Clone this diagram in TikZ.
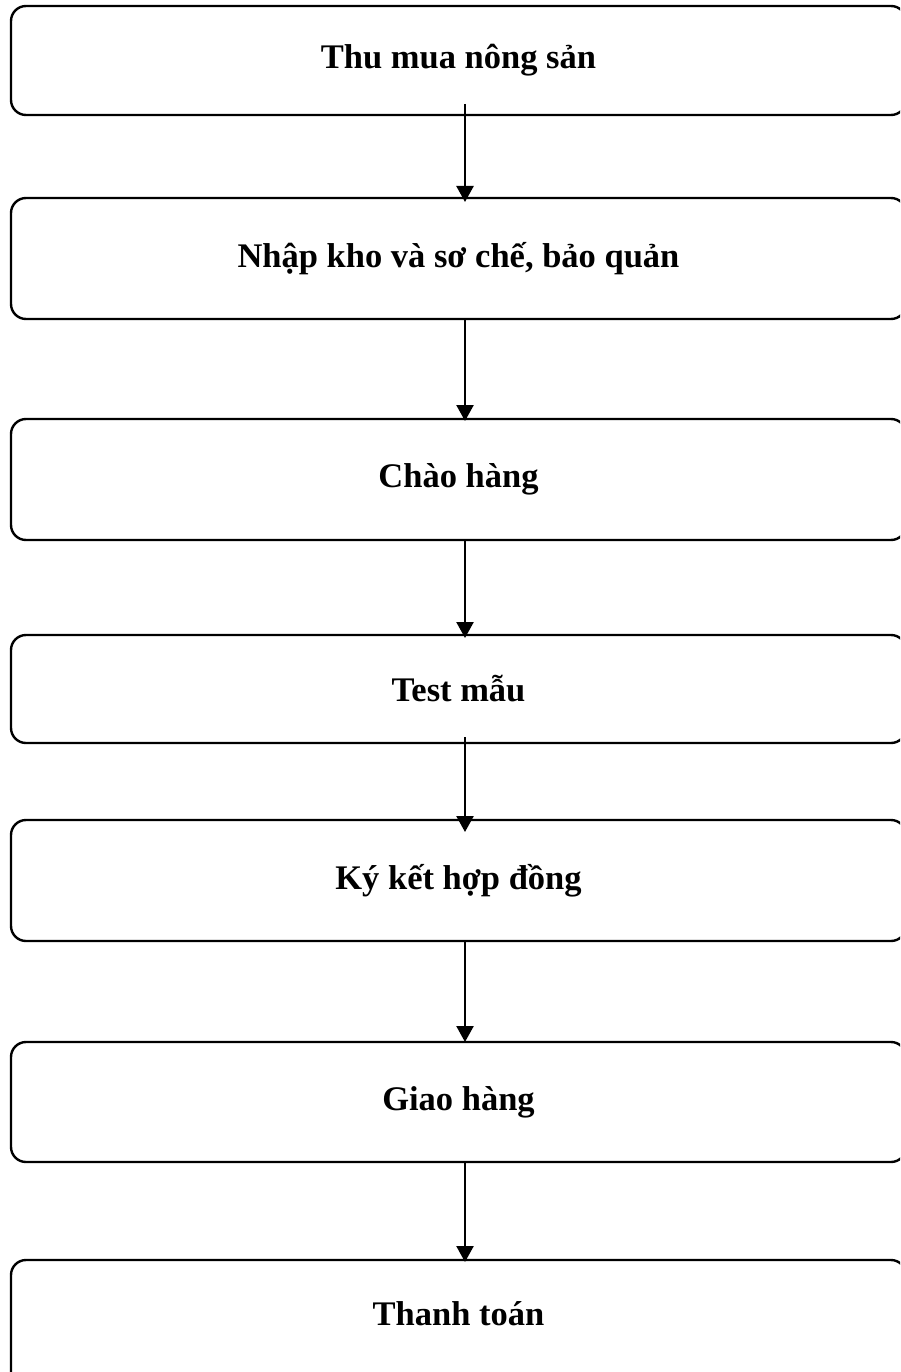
\documentclass[tikz,border=0pt]{standalone}
\usepackage{fontspec}
\setmainfont{Liberation Serif}
\usetikzlibrary{arrows.meta,calc}
\begin{document}
\begin{tikzpicture}[x=1pt,y=-1pt,
  stage/.style={draw=black, line width=2.4pt, rounded corners=15pt,
    rectangle, inner sep=0pt, outer sep=0pt, minimum width=895pt,
    font=\fontsize{34.5}{40}\selectfont\bfseries},
  flow/.style={line width=2.4pt, -{Triangle[length=16pt,width=17pt]}}]
\clip (0,0) rectangle (900,1372);
% process stages, top to bottom
\node[stage, minimum height=109pt] (b1) at (458.5,60.5) {Thu mua nông sản};
\node[stage, minimum height=121pt] (b2) at (458.5,258.5) {Nhập kho và sơ chế, bảo quản};
\node[stage, minimum height=121pt] (b3) at (458.5,479.5) {Chào hàng};
\node[stage, minimum height=108pt] (b4) at (458.5,689) {Test mẫu};
\node[stage, minimum height=121pt] (b5) at (458.5,880.5) {Ký kết hợp đồng};
\node[stage, minimum height=120pt] (b6) at (458.5,1102) {Giao hàng};
\node[stage, minimum height=130pt, text depth=24pt] (b7) at (458.5,1325) {Thanh toán};
% connectors between stages
\draw[flow] ($(b1.south)+(6.5,-11)$) -- ($(b2.north)+(6.5,4)$);
\draw[flow] ($(b2.south)+(6.5,0)$) -- ($(b3.north)+(6.5,2)$);
\draw[flow] ($(b3.south)+(6.5,0)$) -- ($(b4.north)+(6.5,3)$);
\draw[flow] ($(b4.south)+(6.5,-6)$) -- ($(b5.north)+(6.5,12)$);
\draw[flow] ($(b5.south)+(6.5,0)$) -- ($(b6.north)+(6.5,0)$);
\draw[flow] ($(b6.south)+(6.5,0)$) -- ($(b7.north)+(6.5,2)$);
\end{tikzpicture}
\end{document}
